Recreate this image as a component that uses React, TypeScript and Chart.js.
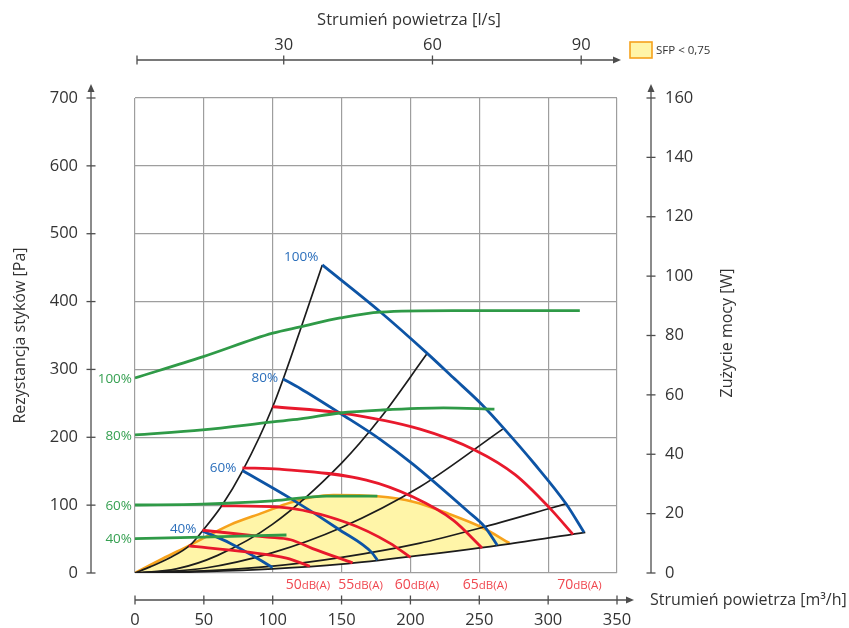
import { useEffect, useRef } from "react";
import { Chart, registerables } from "chart.js";

Chart.register(...registerables);

type Pt = [number, number];

// ---- axes ----
const flowMax = 350; // m3/h
const flowStep = 50;
const pressureMax = 700; // Pa
const pressureStep = 100;
const powerMax = 160; // W
const powerStep = 20;
const flowLsStep = 30; // l/s
const m3hPerLs = 3.6;

const titlePressure = "Rezystancja styków [Pa]";
const titlePower = "Zużycie mocy [W]";
const titleFlowM3h = "Strumień powietrza [m³/h]";
const titleFlowLs = "Strumień powietrza [l/s]";
const sfpLegend = "SFP < 0,75";

// ---- system curves (black), x: m3/h, y: Pa ----
const system1: Pt[] = [[0, 0], [11, 9], [25, 22], [40, 41], [49, 62], [63, 99], [78, 150], [100, 245], [120, 358], [136, 454]];
const system2: Pt[] = [[0, 0], [30, 6], [60, 26], [100, 72], [150, 162], [178, 228], [212, 323]];
const system3: Pt[] = [[0, 0], [50, 7], [100, 30], [150, 67], [207, 127], [267, 212]];
const system4: Pt[] = [[0, 0], [50, 3], [100, 10], [150, 23], [207, 44], [250, 66], [301, 95], [313, 102]];
const system5: Pt[] = [[0, 0], [50, 2], [100, 6], [150, 13], [207, 26], [272, 43], [327, 60]];

// ---- fan curves (blue), Pa ----
const fan100: Pt[] = [[136, 454], [178, 385], [212, 324], [231, 288], [252, 248], [267, 215], [290, 161], [313, 102], [326, 60]];
const fan80: Pt[] = [[107.5, 286], [120, 272], [150, 234], [178, 197], [202, 160], [241, 92], [254, 68], [263, 41]];
const fan60: Pt[] = [[78, 151], [112, 111], [149, 63], [172, 30], [176, 19]];
const fan40: Pt[] = [[49, 62], [69, 44], [86, 25], [100, 8]];
const fanLabels = ["100%", "80%", "60%", "40%"];

// ---- noise curves (red), Pa ----
const noise50: Pt[] = [[39, 40], [81, 31], [110, 22], [127, 10]];
const noise55: Pt[] = [[49, 63], [96, 53], [113, 49], [129, 36], [158, 15]];
const noise60: Pt[] = [[63, 99], [105, 97], [154, 74], [185, 44], [200, 23]];
const noise65: Pt[] = [[78, 155], [105, 153], [168, 137], [202, 112], [231, 78], [252, 37]];
const noise70: Pt[] = [[100, 245], [149, 236], [207, 212], [247, 181], [276, 145], [301, 96], [318, 57]];
const noiseLabels = ["50", "55", "60", "65", "70"];
const noiseUnit = "dB(A)";

// ---- power curves (green), W ----
const power100: Pt[] = [[0, 65.7], [49, 72.8], [100, 80.8], [120, 82.9], [149, 85.9], [178, 87.9], [231, 88.4], [323, 88.4]];
const power80: Pt[] = [[0, 46.5], [49, 48.2], [100, 50.9], [120, 51.9], [149, 53.9], [180, 54.9], [224, 55.6], [261, 55.2]];
const power60: Pt[] = [[0, 22.9], [49, 23.2], [100, 24.3], [139, 25.9], [176, 25.9]];
const power40: Pt[] = [[0, 11.6], [49, 12.1], [110, 12.8]];
const powerLabels = ["100%", "80%", "60%", "40%"];

// ---- SFP < 0.75 boundary (orange), Pa ----
const sfpBoundary: Pt[] = [[0, 0], [20, 21], [40, 41], [69, 71], [93, 89], [113, 104], [129, 112], [144, 115], [176, 113], [202, 105], [228, 87], [252, 67], [272, 44]];

const FONT = "'Open Sans', 'Noto Sans', sans-serif";
const BLACK = "#1c1c1c";
const BLUE = "#0d54a5";
const RED = "#e8192c";
const GREEN = "#2f9a47";
const ORANGE = "#f6a21c";
const YELLOW = "#fff5a8";
const GRID = "#9e9e9e";
const TEXT = "#333333";

const fans = [fan100, fan80, fan60, fan40];
const noises = [noise50, noise55, noise60, noise65, noise70];
const powers = [power100, power80, power60, power40];

const decor = {
  id: "decor",
  afterDraw(chart: any) {
    const { ctx, chartArea: ca } = chart;
    const sx = chart.scales.x;
    const sy = chart.scales.y;
    const sy2 = chart.scales.y2;
    const sx2 = chart.scales.x2;
    ctx.save();
    const AX = "#4d4d4d";
    ctx.strokeStyle = AX;
    ctx.fillStyle = AX;
    ctx.lineWidth = 1.3;
    const seg = (a: number, b: number, c: number, d: number) => {
      ctx.beginPath();
      ctx.moveTo(a, b);
      ctx.lineTo(c, d);
      ctx.stroke();
    };
    const arrowUp = (x: number, tip: number) => {
      ctx.beginPath();
      ctx.moveTo(x, tip);
      ctx.lineTo(x - 3.5, tip + 8);
      ctx.lineTo(x + 3.5, tip + 8);
      ctx.closePath();
      ctx.fill();
    };
    const arrowRight = (tip: number, y: number) => {
      ctx.beginPath();
      ctx.moveTo(tip, y);
      ctx.lineTo(tip - 8, y - 3.5);
      ctx.lineTo(tip - 8, y + 3.5);
      ctx.closePath();
      ctx.fill();
    };

    // left axis
    const lx = 91;
    seg(lx, sy.getPixelForValue(0), lx, 90);
    arrowUp(lx, 84);
    sy.ticks.forEach((t: any) => {
      const p = sy.getPixelForValue(t.value);
      seg(lx - 4.5, p, lx + 4.5, p);
    });
    // right axis
    const rx = 651;
    seg(rx, sy2.getPixelForValue(0), rx, 90);
    arrowUp(rx, 84);
    sy2.ticks.forEach((t: any) => {
      const p = sy2.getPixelForValue(t.value);
      seg(rx - 4.5, p, rx + 4.5, p);
    });
    // bottom axis
    const by = 600;
    seg(sx.getPixelForValue(0), by, 628, by);
    arrowRight(634, by);
    sx.ticks.forEach((t: any) => {
      const p = sx.getPixelForValue(t.value);
      seg(p, by - 4.5, p, by + 4.5);
    });
    // top axis
    const ty = 60;
    seg(sx2.getPixelForValue(0) + 2, ty, 614, ty);
    arrowRight(621, ty);
    sx2.ticks.forEach((t: any) => {
      const p = sx2.getPixelForValue(t.value) + (t.value === 0 ? 2 : 0);
      seg(p, ty - 4.5, p, ty + 4.5);
    });

    // titles
    ctx.fillStyle = TEXT;
    ctx.font = `16.5px ${FONT}`;
    ctx.textBaseline = "middle";
    ctx.textAlign = "center";
    ctx.fillText(titleFlowLs, 409, 20);
    ctx.textAlign = "left";
    ctx.font = `16px ${FONT}`;
    ctx.fillText(titleFlowM3h, 650, 600);
    ctx.save();
    ctx.translate(727, 333);
    ctx.rotate(-Math.PI / 2);
    ctx.textAlign = "center";
    ctx.fillText(titlePower, 0, 0);
    ctx.restore();

    // legend
    ctx.fillStyle = YELLOW;
    ctx.fillRect(630, 42, 22, 16);
    ctx.strokeStyle = ORANGE;
    ctx.lineWidth = 1.6;
    ctx.strokeRect(630, 42, 22, 16);
    ctx.fillStyle = TEXT;
    ctx.font = `11.5px ${FONT}`;
    ctx.textAlign = "left";
    ctx.fillText(sfpLegend, 656, 51);

    // fan labels (blue)
    const fanOff: Pt[] = [[-4, -8], [-5, -1], [-6, -2], [-6, -2]];
    ctx.fillStyle = "#2a6ebb";
    ctx.font = `13.5px ${FONT}`;
    ctx.textAlign = "right";
    fans.forEach((c, i) => {
      const px = sx.getPixelForValue(c[0][0]);
      const py = sy.getPixelForValue(c[0][1]);
      ctx.fillText(fanLabels[i], px + fanOff[i][0], py + fanOff[i][1]);
    });
    // power labels (green)
    ctx.fillStyle = "#36a052";
    powers.forEach((c, i) => {
      const py = sy2.getPixelForValue(c[0][1]);
      ctx.fillText(powerLabels[i], ca.left - 3, py + 1);
    });
    // noise labels (red)
    const noiseOff = [-2, 8, 6.5, 3, 6.5];
    ctx.fillStyle = "#f0474f";
    ctx.textBaseline = "alphabetic";
    ctx.textAlign = "left";
    noises.forEach((c, i) => {
      const end = c[c.length - 1];
      const cx = sx.getPixelForValue(end[0]) + noiseOff[i];
      ctx.font = `14px ${FONT}`;
      const w1 = ctx.measureText(noiseLabels[i]).width;
      ctx.font = `11.5px ${FONT}`;
      const w2 = ctx.measureText(noiseUnit).width;
      const x0 = cx - (w1 + w2) / 2;
      ctx.font = `14px ${FONT}`;
      ctx.fillText(noiseLabels[i], x0, 589);
      ctx.font = `11.5px ${FONT}`;
      ctx.fillText(noiseUnit, x0 + w1, 589);
    });
    ctx.restore();
  },
};

const fixBox = (w: number | null, h: number | null) => (s: any) => {
  if (w !== null) s.width = w;
  if (h !== null) s.height = h;
  s.paddingTop = 0;
  s.paddingBottom = 0;
  s.paddingLeft = 0;
  s.paddingRight = 0;
};

export default function App() {
  const ref = useRef<HTMLCanvasElement>(null);
  useEffect(() => {
    const canvas = ref.current;
    if (!canvas) return;
    Chart.defaults.font.family = FONT;
    const mk = (pts: Pt[], color: string, width: number, axis: string, order: number, extra: any = {}) => ({
      data: pts.map(([x, y]) => ({ x, y })),
      borderColor: color,
      backgroundColor: color,
      borderWidth: width,
      showLine: true,
      pointRadius: 0,
      pointHoverRadius: 0,
      fill: false,
      cubicInterpolationMode: "monotone",
      xAxisID: "x",
      yAxisID: axis,
      order,
      ...extra,
    });
    const datasets: any[] = [
      mk(sfpBoundary, ORANGE, 2.6, "y", 10, { fill: { target: 5, above: YELLOW, below: YELLOW } }),
      mk(system1, BLACK, 1.7, "y", 8),
      mk(system2, BLACK, 1.7, "y", 8),
      mk(system3, BLACK, 1.7, "y", 8),
      mk(system4, BLACK, 1.7, "y", 8),
      mk(system5, BLACK, 1.7, "y", 8),
      ...fans.map((f) => mk(f, BLUE, 2.8, "y", 6)),
      ...noises.map((n) => mk(n, RED, 2.8, "y", 4)),
      ...powers.map((p) => mk(p, GREEN, 2.8, "y2", 2)),
    ];
    const tickFont = { family: FONT, size: 16.5 };
    const chart = new Chart(canvas, {
      type: "scatter",
      data: { datasets },
      plugins: [decor],
      options: {
        animation: false,
        responsive: false,
        devicePixelRatio: 1,
        layout: { padding: 0 },
        plugins: { legend: { display: false }, tooltip: { enabled: false } },
        events: [],
        scales: {
          x: {
            type: "linear",
            position: "bottom",
            min: 0,
            max: flowMax,
            ticks: { stepSize: flowStep, padding: 37, color: TEXT, font: tickFont, maxRotation: 0 },
            grid: { color: GRID, lineWidth: 1.2, drawTicks: false },
            border: { display: false },
            afterFit: fixBox(null, 55),
          },
          x2: {
            type: "linear",
            axis: "x",
            position: "top",
            min: 0,
            max: flowMax / m3hPerLs,
            ticks: {
              stepSize: flowLsStep,
              includeBounds: false,
              padding: 43,
              color: TEXT,
              font: tickFont,
              maxRotation: 0,
              callback: (v: any) => (v === 0 ? "" : String(v)),
            },
            grid: { display: false, drawTicks: false },
            border: { display: false },
            afterFit: fixBox(null, 98),
          },
          y: {
            type: "linear",
            position: "left",
            min: 0,
            max: pressureMax,
            ticks: { stepSize: pressureStep, padding: 57, color: TEXT, font: tickFont },
            grid: { color: GRID, lineWidth: 1.2, drawTicks: false },
            border: { display: false },
            title: {
              display: true,
              text: titlePressure,
              color: TEXT,
              font: { family: FONT, size: 16 },
              padding: { top: 11, bottom: 0 },
            },
            afterFit: fixBox(135, null),
          },
          y2: {
            type: "linear",
            position: "right",
            min: 0,
            max: powerMax,
            ticks: { stepSize: powerStep, padding: 48, color: TEXT, font: tickFont },
            grid: { display: false, drawTicks: false },
            border: { display: false },
            afterFit: fixBox(232, null),
          },
        },
      } as any,
    });
    return () => chart.destroy();
  }, []);
  return (
    <div style={{ position: "fixed", left: 0, top: 0, width: 849, height: 628, background: "#fff" }}>
      <canvas ref={ref} width={849} height={628} style={{ display: "block", width: 849, height: 628 }} />
    </div>
  );
}
